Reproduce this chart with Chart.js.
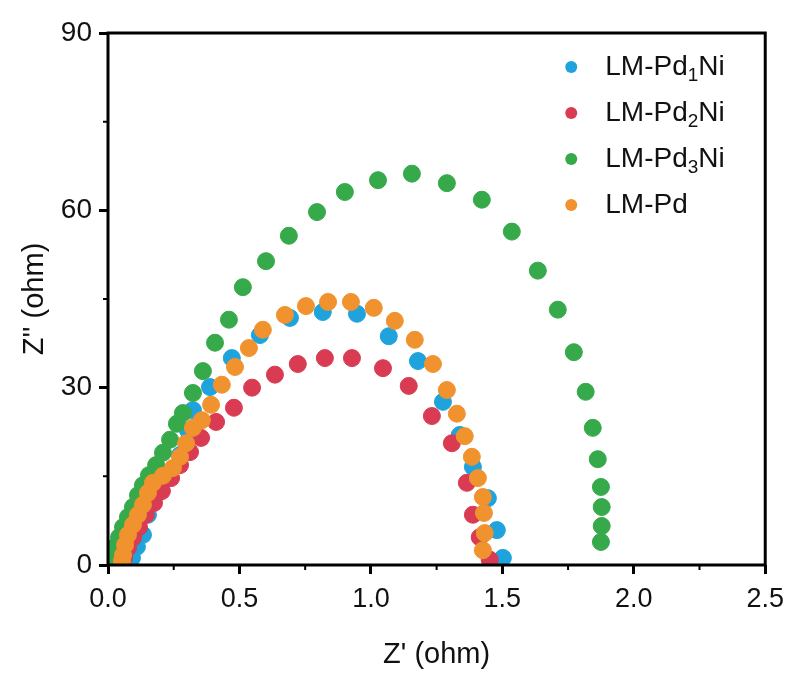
<!DOCTYPE html>
<html lang="en">
<head>
  <meta charset="UTF-8" />
  <title>Nyquist plot - LM-Pd samples</title>
  <script src="https://cdn.jsdelivr.net/npm/chart.js"></script>
  <style>
    html, body { margin: 0; padding: 0; background: #fff; }
    #wrap { width: 793px; height: 673px; }
  </style>
</head>
<body>
<div id="wrap"><canvas id="nyquist" width="793" height="673"></canvas></div>

<script>
// series names (digit after "Pd" is drawn as subscript in the legend)
const seriesNames = ['LM-Pd1Ni', 'LM-Pd2Ni', 'LM-Pd3Ni', 'LM-Pd'];
const seriesColors = ['#1ea3dc', '#d93b52', '#36a94a', '#f0922e'];

// Z' (ohm) / Z'' (ohm)
const pd1niX = [0.091, 0.110, 0.133, 0.152, 0.190, 0.224, 0.274, 0.304, 0.323, 0.388, 0.471, 0.578, 0.692, 0.817, 0.947, 1.068, 1.179, 1.274, 1.338, 1.388, 1.445, 1.479, 1.502];
const pd1niY = [1.2, 3.1, 5.1, 8.5, 12.2, 14.7, 18.6, 22.8, 26.2, 30.1, 35.0, 38.9, 41.8, 42.8, 42.5, 38.7, 34.5, 27.6, 22.0, 16.6, 11.3, 5.9, 1.2];

const pd2niX = [0.061, 0.076, 0.095, 0.118, 0.144, 0.175, 0.205, 0.240, 0.274, 0.312, 0.354, 0.411, 0.479, 0.548, 0.635, 0.722, 0.825, 0.928, 1.046, 1.144, 1.232, 1.308, 1.365, 1.388, 1.414, 1.452];
const pd2niY = [1.2, 2.9, 4.6, 6.4, 8.5, 10.5, 12.5, 14.7, 16.9, 19.1, 21.5, 24.2, 26.6, 30.0, 32.2, 34.0, 35.0, 35.0, 33.3, 30.3, 25.2, 20.6, 13.9, 8.5, 4.7, 0.9];

const pd3niX = [0.004, 0.015, 0.027, 0.042, 0.057, 0.076, 0.095, 0.114, 0.133, 0.156, 0.183, 0.209, 0.236, 0.262, 0.285, 0.323, 0.361, 0.407, 0.460, 0.513, 0.601, 0.688, 0.795, 0.901, 1.027, 1.156, 1.289, 1.422, 1.536, 1.635, 1.711, 1.772, 1.817, 1.844, 1.863, 1.875, 1.878, 1.878, 1.875];
const pd3niY = [0.3, 1.4, 3.1, 4.7, 6.4, 8.1, 9.8, 11.8, 13.5, 15.2, 16.9, 19.0, 21.2, 23.9, 25.7, 29.1, 32.8, 37.6, 41.5, 47.0, 51.4, 55.7, 59.7, 63.1, 65.1, 66.2, 64.6, 61.8, 56.4, 49.8, 43.2, 36.0, 29.3, 23.2, 17.9, 13.2, 9.8, 6.6, 3.9];

const pdX = [0.053, 0.057, 0.065, 0.076, 0.095, 0.114, 0.133, 0.152, 0.171, 0.209, 0.247, 0.274, 0.297, 0.323, 0.357, 0.392, 0.433, 0.483, 0.536, 0.589, 0.673, 0.753, 0.837, 0.924, 1.011, 1.091, 1.167, 1.236, 1.289, 1.327, 1.357, 1.384, 1.407, 1.426, 1.430, 1.433, 1.426];
const pdY = [0.7, 1.7, 3.4, 5.1, 6.8, 8.5, 10.2, 12.2, 13.9, 15.1, 16.4, 18.3, 20.6, 23.2, 24.5, 27.1, 30.5, 33.5, 36.7, 39.8, 42.3, 43.8, 44.5, 44.5, 43.5, 41.3, 38.1, 34.0, 29.6, 25.6, 21.8, 18.3, 14.7, 11.5, 8.8, 5.4, 2.5];

const xTicks = [0, 0.5, 1.0, 1.5, 2.0, 2.5];
const yTicks = [0, 30, 60, 90];
const xMinor = [0.25, 0.75, 1.25, 1.75, 2.25];
const yMinor = [15, 45, 75];

const seriesX = [pd1niX, pd2niX, pd3niX, pdX];
const seriesY = [pd1niY, pd2niY, pd3niY, pdY];
const drawOrder = [3, 2, 1, 0]; // orange on top, then green

const FONT = '"Liberation Sans", Arial, sans-serif';

function toPoints(xs, ys) {
  return xs.map((x, i) => ({ x: x, y: ys[i] }));
}

// box around the plot and short minor ticks
const framePlugin = {
  id: 'frame',
  afterDraw(chart) {
    const { ctx, chartArea: a, scales } = chart;
    ctx.save();
    ctx.strokeStyle = '#000';
    ctx.lineWidth = 3;
    ctx.strokeRect(a.left, a.top, a.right - a.left, a.bottom - a.top);
    ctx.lineWidth = 2;
    ctx.beginPath();
    xMinor.forEach(v => {
      const px = scales.x.getPixelForValue(v);
      ctx.moveTo(px, a.bottom);
      ctx.lineTo(px, a.bottom + 5);
    });
    yMinor.forEach(v => {
      const py = scales.y.getPixelForValue(v);
      ctx.moveTo(a.left, py);
      ctx.lineTo(a.left - 5, py);
    });
    ctx.stroke();
    ctx.restore();
  }
};

// legend inside the plot, with subscript digits
const legendPlugin = {
  id: 'insideLegend',
  afterDraw(chart) {
    const ctx = chart.ctx;
    const a = chart.chartArea;
    const x0 = a.right - 194;
    const y0 = a.top + 34;
    const rowH = 46;
    ctx.save();
    chart.data.datasets.forEach((ds, i) => {
      const y = y0 + i * rowH;
      ctx.beginPath();
      ctx.fillStyle = ds.backgroundColor;
      ctx.arc(x0, y, 6, 0, Math.PI * 2);
      ctx.fill();

      const parts = ds.label.match(/^(.*?Pd)(\d?)(.*)$/);
      let tx = x0 + 34;
      ctx.fillStyle = '#111';
      ctx.textBaseline = 'middle';
      ctx.font = '28px ' + FONT;
      ctx.fillText(parts[1], tx, y);
      tx += ctx.measureText(parts[1]).width;
      if (parts[2]) {
        ctx.font = '19px ' + FONT;
        ctx.fillText(parts[2], tx, y + 9);
        tx += ctx.measureText(parts[2]).width;
      }
      ctx.font = '28px ' + FONT;
      ctx.fillText(parts[3], tx, y);
    });
    ctx.restore();
  }
};

const datasets = seriesNames.map((name, i) => ({
  label: name,
  data: toPoints(seriesX[i], seriesY[i]),
  backgroundColor: seriesColors[i],
  borderColor: seriesColors[i],
  borderWidth: 1,
  pointRadius: 8.5,
  pointHoverRadius: 8.5,
  order: drawOrder[i]
}));

new Chart(document.getElementById('nyquist').getContext('2d'), {
  type: 'scatter',
  data: { datasets },
  plugins: [framePlugin, legendPlugin],
  options: {
    responsive: false,
    animation: false,
    layout: { padding: { left: 0, top: 33, right: 26, bottom: 0 } },
    plugins: { legend: { display: false }, tooltip: { enabled: false } },
    scales: {
      x: {
        type: 'linear',
        min: 0,
        max: 2.5,
        afterFit: s => { s.height = 108; },
        afterBuildTicks: s => { s.ticks = xTicks.map(v => ({ value: v })); },
        ticks: {
          color: '#111',
          padding: 9,
          maxRotation: 0,
          font: { family: FONT, size: 27 },
          callback: v => Number(v).toFixed(1)
        },
        grid: { drawOnChartArea: false, tickLength: 9, tickWidth: 3, tickColor: '#000' },
        border: { display: false },
        title: {
          display: true,
          text: "Z' (ohm)",
          color: '#111',
          font: { family: FONT, size: 29, lineHeight: 1 },
          padding: { top: 0, bottom: 4 }
        }
      },
      y: {
        type: 'linear',
        min: 0,
        max: 90,
        afterFit: s => { s.width = 108; },
        afterBuildTicks: s => { s.ticks = yTicks.map(v => ({ value: v })); },
        ticks: {
          color: '#111',
          padding: 7,
          font: { family: FONT, size: 28 }
        },
        grid: { drawOnChartArea: false, tickLength: 9, tickWidth: 3, tickColor: '#000' },
        border: { display: false },
        title: {
          display: true,
          text: "Z'' (ohm)",
          color: '#111',
          font: { family: FONT, size: 29, lineHeight: 1 },
          padding: { top: 20, bottom: 0 }
        }
      }
    }
  }
});
</script>
</body>
</html>
